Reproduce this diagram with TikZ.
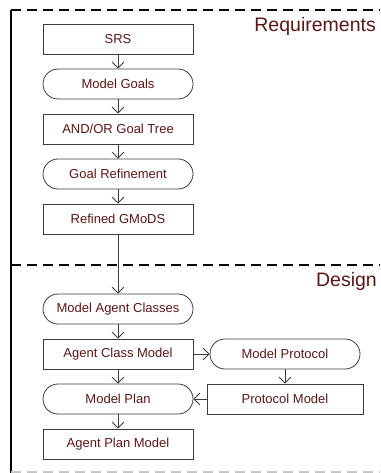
\documentclass[tikz,border=0pt]{standalone}
\usepackage{fontspec}
\setmainfont{Liberation Sans}
\usetikzlibrary{arrows.meta,positioning}
\definecolor{labelred}{RGB}{92,22,22}
\definecolor{boxline}{RGB}{60,60,60}

\begin{document}
\begin{tikzpicture}[x=1pt,y=1pt,node distance=45pt,on grid,
  >={Straight Barb[length=6pt,width=12pt]},
  artifact/.style={draw=boxline,line width=0.8pt,minimum width=150pt,minimum height=30pt,
    inner sep=0pt,text=labelred,font=\fontsize{13}{15}\selectfont},
  activity/.style={artifact,rounded corners=15pt},
  phase/.style={text=labelred,font=\fontsize{19.5}{22}\selectfont,anchor=east,inner sep=0pt},
  frame/.style={line width=1.6pt,dash pattern=on 10pt off 6pt}]
\useasboundingbox (0,0) rectangle (380,-473);
% frame and phases
\draw[line width=1.6pt] (11,-10) -- (11,-473);
\draw[frame] (11,-10) -- (380,-10);
\draw[frame] (11,-265) -- (380,-265);
\draw[frame,gray!45] (11,-472) -- (380,-472);
\node[phase] (req) at (376,-26) {Requirements};
\node[phase] (des) at (377,-281) {Design};
% requirements
\node[artifact] (srs) at (118,-39) {SRS};
\node[activity] (mgoals) [below = of srs] {Model Goals};
\node[artifact] (gtree) [below = of mgoals] {AND/OR Goal Tree};
\node[activity] (grefine) [below = of gtree] {Goal Refinement};
\node[artifact] (gmods) [below = of grefine] {Refined GMoDS};
% design
\node[activity] (magent) [below = 90pt of gmods] {Model Agent Classes};
\node[artifact] (acmodel) [below = of magent] {Agent Class Model};
\node[activity] (mproto) [right = 167pt of acmodel] {Model Protocol};
\node[artifact] (pmodel) [below = of mproto, minimum width=156pt] {Protocol Model};
\node[activity] (mplan) [below = of acmodel] {Model Plan};
\node[artifact] (apmodel) [below = of mplan] {Agent Plan Model};
\path[->,draw=boxline,line width=0.8pt]
(srs) edge (mgoals)
(mgoals) edge (gtree)
(gtree) edge (grefine)
(grefine) edge (gmods)
(gmods) edge (magent)
(magent) edge (acmodel)
(acmodel)
edge (mproto)
edge (mplan)
(mproto) edge (pmodel)
(pmodel) edge (mplan)
(mplan) edge (apmodel)
;
\end{tikzpicture}
\end{document}
